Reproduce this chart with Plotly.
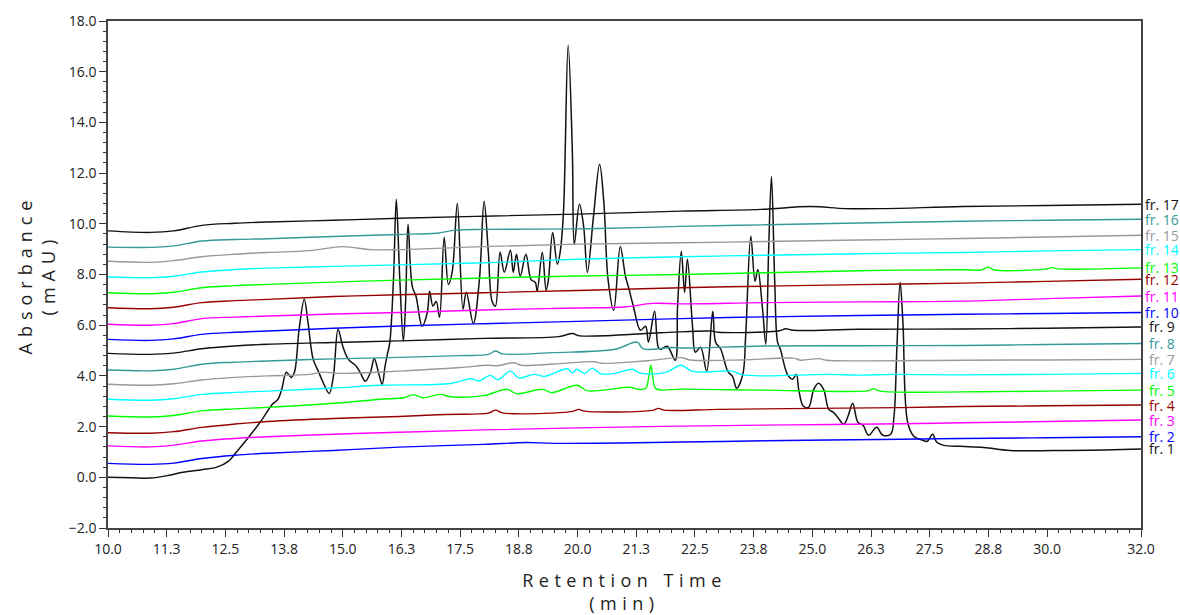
import plotly.graph_objects as go

# ---------------- data ----------------
x_tick_vals = [10, 11.25, 12.5, 13.75, 15, 16.25, 17.5, 18.75, 20, 21.25, 22.5,
               23.75, 25, 26.25, 27.5, 28.75, 30, 32]
x_tick_text = ["10.0", "11.3", "12.5", "13.8", "15.0", "16.3", "17.5", "18.8", "20.0",
               "21.3", "22.5", "23.8", "25.0", "26.3", "27.5", "28.8", "30.0", "32.0"]

fr1_t = [10.0, 10.5, 10.9, 11.3, 11.6, 12.0, 12.32, 12.56, 12.75, 12.96, 13.24, 13.5, 13.62,
         13.7, 13.8, 13.9, 13.97, 14.07, 14.18, 14.26, 14.37, 14.48, 14.58, 14.71, 14.8, 14.9,
         15.0, 15.12, 15.27, 15.37, 15.48, 15.59, 15.67, 15.76, 15.84, 15.9, 15.95, 16.0, 16.08,
         16.14, 16.21, 16.29, 16.34, 16.39, 16.48, 16.56, 16.69, 16.8, 16.85, 16.92, 16.99, 17.06,
         17.16, 17.25, 17.33, 17.44, 17.56, 17.63, 17.78, 17.91, 18.01, 18.1, 18.18, 18.25, 18.35,
         18.44, 18.57, 18.63, 18.7, 18.78, 18.9, 19.01, 19.1, 19.14, 19.25, 19.33, 19.38, 19.47,
         19.57, 19.63, 19.7, 19.8, 19.89, 19.93, 20.04, 20.13, 20.21, 20.34, 20.47, 20.56, 20.65,
         20.77, 20.91, 21.02, 21.08, 21.19, 21.34, 21.45, 21.51, 21.64, 21.72, 21.77, 21.91, 22.08,
         22.13, 22.21, 22.28, 22.34, 22.45, 22.51, 22.62, 22.75, 22.88, 22.94, 23.05, 23.2, 23.3,
         23.39, 23.52, 23.58, 23.69, 23.78, 23.84, 23.94, 24.01, 24.07, 24.13, 24.2, 24.26, 24.32,
         24.47, 24.58, 24.66, 24.71, 24.81, 24.92, 25.03, 25.13, 25.24, 25.35, 25.45, 25.54, 25.67,
         25.76, 25.86, 25.97, 26.08, 26.2, 26.37, 26.5, 26.67, 26.74, 26.8, 26.87, 26.93, 27.03,
         27.16, 27.35, 27.45, 27.56, 27.65, 27.8, 28.16, 28.65, 29.22, 30.44, 31.2, 32.0]
fr1_v = [0.0, -0.02, -0.03, 0.08, 0.2, 0.3, 0.4, 0.63, 1.03, 1.5, 2.17, 2.88, 3.08,
         3.47, 4.14, 3.94, 4.14, 5.84, 7.02, 6.1, 4.65, 4.18, 3.75, 3.31, 3.98, 5.84,
         5.17, 4.65, 4.42, 4.14, 3.79, 4.14, 4.69, 4.14, 3.67, 4.38, 4.85, 5.3, 7.8,
         10.97, 8.0, 5.36, 7.0, 9.98, 7.53, 7.14, 5.96, 6.5, 7.34, 6.75, 6.94, 6.31,
         9.47, 7.61, 8.09, 10.81, 6.63, 7.3, 6.07, 7.8, 10.89, 8.88, 6.94, 6.75, 8.88,
         8.09, 8.96, 8.09, 8.8, 7.93, 8.8, 7.8, 7.69, 7.34, 8.88, 7.38, 7.8, 9.66,
         8.4, 8.88, 10.45, 17.04, 12.82, 9.19, 10.77, 9.9, 8.09, 10.3, 12.35, 10.85, 7.8,
         6.59, 9.1, 7.93, 7.53, 6.74, 5.8, 5.96, 5.33, 6.55, 5.13, 5.05, 5.17, 4.62,
         6.74, 8.92, 7.3, 8.6, 5.92, 4.93, 5.13, 4.18, 6.55, 5.33, 5.05, 4.18, 3.98,
         3.51, 4.06, 5.56, 9.51, 7.73, 8.2, 6.63, 5.25, 8.99, 11.87, 7.69, 5.33, 5.05,
         4.06, 3.87, 4.06, 3.47, 2.8, 2.76, 3.47, 3.71, 3.47, 2.68, 2.56, 2.37, 2.09,
         2.41, 2.92, 2.17, 2.05, 1.66, 1.97, 1.66, 1.7, 2.41, 5.05, 7.69, 6.1, 2.17,
         1.62, 1.46, 1.42, 1.7, 1.38, 1.26, 1.22, 1.18, 1.06, 1.06, 1.08, 1.12]

fr2_t = [10, 10.9, 11.4, 12.0, 12.7, 13.4, 14.8, 16.2, 18.0, 18.9, 19.5, 22.2, 24, 26.9, 28.2, 30, 32]
fr2_v = [0.55, 0.51, 0.56, 0.74, 0.87, 0.95, 1.06, 1.19, 1.3, 1.37, 1.34, 1.39, 1.44, 1.5, 1.53, 1.56, 1.6]

fr3_t = [10, 10.9, 11.4, 12.0, 12.7, 13.4, 14.8, 16.2, 18, 20, 22.2, 24.5, 26.9, 28.2, 30, 32]
fr3_v = [1.24, 1.2, 1.27, 1.43, 1.53, 1.6, 1.7, 1.78, 1.87, 1.95, 2.02, 2.07, 2.11, 2.15, 2.2, 2.26]

fr4_t = [10, 10.9, 11.4, 12.0, 12.7, 13.4, 14.8, 16.2, 17.2, 18.1, 18.25, 18.4, 19.9, 20.02, 20.15,
         21.6, 21.72, 21.85, 23, 24.5, 26.9, 28.2, 30, 32]
fr4_v = [1.76, 1.74, 1.8, 1.97, 2.1, 2.2, 2.32, 2.4, 2.48, 2.53, 2.65, 2.54, 2.6, 2.68, 2.61,
         2.64, 2.72, 2.65, 2.68, 2.71, 2.75, 2.79, 2.82, 2.85]

fr5_t = [10, 10.9, 11.4, 12.0, 12.7, 13.4, 14.8, 15.8, 16.3, 16.51, 16.7, 17.08, 17.3, 18.0,
         18.5, 18.7, 19.25, 19.45, 19.99, 20.2, 20.6, 21.1, 21.3, 21.45, 21.52, 21.56, 21.6,
         21.67, 22.2, 23, 24, 26.2, 26.3, 26.45, 28.2, 30, 32]
fr5_v = [2.42, 2.38, 2.44, 2.62, 2.7, 2.76, 2.92, 3.08, 3.14, 3.25, 3.14, 3.27, 3.18, 3.22,
         3.47, 3.3, 3.47, 3.34, 3.63, 3.42, 3.45, 3.55, 3.47, 3.5, 4.0, 4.42, 4.0,
         3.5, 3.48, 3.46, 3.44, 3.42, 3.5, 3.4, 3.37, 3.4, 3.44]

fr6_t = [10, 10.9, 11.4, 12.0, 12.7, 13.4, 14.8, 15.8, 17.3, 17.72, 17.9, 18.14, 18.3, 18.57,
         18.75, 19.07, 19.3, 19.78, 19.89, 19.99, 20.15, 20.31, 20.5, 20.8, 21.17, 21.35,
         21.9, 22.2, 22.45, 23.0, 23.3, 23.5, 24, 25.3, 26.0, 26.74, 28.2, 30, 32]
fr6_v = [3.08, 3.04, 3.1, 3.27, 3.35, 3.4, 3.52, 3.63, 3.7, 3.89, 3.8, 4.02, 3.85, 4.19,
         3.92, 4.06, 3.98, 4.28, 4.12, 4.26, 4.1, 4.3, 4.08, 4.1, 4.26, 4.1,
         4.15, 4.42, 4.18, 4.18, 4.19, 4.05, 4.0, 4.06, 4.03, 4.06, 4.04, 4.06, 4.1]

fr7_t = [10, 10.9, 11.4, 12.0, 12.7, 13.4, 14.3, 14.58, 14.9, 16.2, 17.5, 18.07, 18.3, 18.64,
         18.8, 19.5, 20.35, 20.5, 21.5, 22.2, 22.4, 23.5, 24.6, 24.75, 25.14, 25.3, 28.2, 30, 32]
fr7_v = [3.67, 3.63, 3.69, 3.84, 3.94, 4.0, 4.06, 4.15, 4.1, 4.19, 4.33, 4.42, 4.4, 4.52,
         4.42, 4.47, 4.56, 4.5, 4.6, 4.72, 4.63, 4.63, 4.7, 4.62, 4.68, 4.62, 4.62, 4.63, 4.65]

fr8_t = [10, 10.9, 11.4, 12.0, 12.7, 13.4, 14.8, 16.2, 17.5, 18.1, 18.25, 18.4, 19.5, 20.8,
         21.27, 21.4, 22.0, 22.3, 24, 26, 28.2, 30, 32]
fr8_v = [4.23, 4.2, 4.26, 4.46, 4.54, 4.59, 4.67, 4.73, 4.8, 4.85, 4.98, 4.87, 4.92, 5.05,
         5.33, 5.07, 5.12, 5.1, 5.18, 5.19, 5.2, 5.24, 5.28]

fr9_t = [10, 10.9, 11.4, 12.0, 12.7, 13.4, 14.8, 16.2, 18, 19.6, 19.89, 20.05, 21.77, 22.84,
         23.0, 24.3, 24.43, 24.6, 26, 28.2, 30, 32]
fr9_v = [4.89, 4.85, 4.9, 5.07, 5.18, 5.25, 5.32, 5.38, 5.48, 5.55, 5.67, 5.58, 5.7, 5.77,
         5.72, 5.78, 5.86, 5.8, 5.84, 5.85, 5.88, 5.93]

fr10_t = [10, 10.9, 11.4, 12.0, 12.7, 13.4, 14.8, 16.2, 18, 20, 22.2, 24, 26, 28.2, 30, 32]
fr10_v = [5.44, 5.4, 5.46, 5.64, 5.72, 5.77, 5.88, 5.97, 6.06, 6.15, 6.26, 6.33, 6.38, 6.43, 6.46, 6.5]

fr11_t = [10, 10.9, 11.4, 12.0, 12.7, 13.4, 14.8, 16.2, 18, 20, 21.0, 21.6, 22.2, 24, 26, 28.2, 30, 32]
fr11_v = [6.04, 6.0, 6.06, 6.26, 6.32, 6.36, 6.44, 6.5, 6.6, 6.68, 6.72, 6.86, 6.84, 6.89, 6.92, 6.95, 7.05, 7.15]

fr12_t = [10, 10.9, 11.4, 12.0, 12.7, 13.4, 14.8, 16.2, 18, 20, 22.2, 24, 26, 28.2, 30, 32]
fr12_v = [6.69, 6.65, 6.71, 6.89, 6.97, 7.02, 7.13, 7.2, 7.28, 7.37, 7.48, 7.54, 7.6, 7.66, 7.73, 7.81]

fr13_t = [10, 10.9, 11.4, 12.0, 12.7, 13.4, 14.8, 16.2, 18, 20, 22.2, 24, 26, 28.2, 28.6, 28.74,
          28.88, 30.0, 30.1, 30.25, 32]
fr13_v = [7.28, 7.24, 7.3, 7.48, 7.56, 7.61, 7.7, 7.78, 7.86, 7.94, 8.0, 8.07, 8.15, 8.19, 8.18, 8.29,
          8.18, 8.22, 8.27, 8.22, 8.26]

fr14_t = [10, 10.9, 11.4, 12.0, 12.7, 13.4, 14.8, 16.2, 18, 20, 22.2, 24, 26, 28.2, 30, 32]
fr14_v = [7.9, 7.87, 7.93, 8.1, 8.2, 8.25, 8.32, 8.38, 8.46, 8.6, 8.7, 8.76, 8.82, 8.87, 8.93, 8.98]

fr15_t = [10, 10.9, 11.4, 12.0, 12.7, 13.4, 14.3, 15.0, 15.6, 16.2, 18, 20, 22.2, 24, 26, 28.2, 30, 32]
fr15_v = [8.52, 8.48, 8.55, 8.7, 8.8, 8.87, 8.94, 9.1, 8.98, 8.98, 9.1, 9.2, 9.25, 9.3, 9.36, 9.42, 9.48, 9.55]

fr16_t = [10, 10.9, 11.4, 12.0, 12.7, 13.4, 14.8, 16.2, 17.0, 17.4, 18, 20, 21.5, 22.2, 24, 26, 28.2, 30, 32]
fr16_v = [9.08, 9.07, 9.13, 9.32, 9.38, 9.41, 9.5, 9.58, 9.63, 9.75, 9.78, 9.8, 9.86, 9.9, 9.96, 10.03, 10.1, 10.14, 10.18]

fr17_t = [10, 10.9, 11.4, 12.0, 12.7, 13.4, 14.8, 16.2, 18, 20, 22.2, 23.9, 24.96, 25.7, 26.5, 28.2, 30, 32]
fr17_v = [9.72, 9.66, 9.72, 9.94, 10.02, 10.07, 10.14, 10.22, 10.3, 10.38, 10.5, 10.57, 10.68, 10.6, 10.6, 10.68, 10.72, 10.77]

series_names = ["fr. %d" % i for i in range(1, 18)]
series_t = [fr1_t, fr2_t, fr3_t, fr4_t, fr5_t, fr6_t, fr7_t, fr8_t, fr9_t, fr10_t, fr11_t,
            fr12_t, fr13_t, fr14_t, fr15_t, fr16_t, fr17_t]
series_v = [fr1_v, fr2_v, fr3_v, fr4_v, fr5_v, fr6_v, fr7_v, fr8_v, fr9_v, fr10_v, fr11_v,
            fr12_v, fr13_v, fr14_v, fr15_v, fr16_v, fr17_v]

palette = ["#111111", "#0000ff", "#ff00ff", "#990000", "#00ff00", "#00ffff", "#999999", "#339999"]

# ---------------- figure ----------------
fig = go.Figure()
for i, (name, t, v) in enumerate(zip(series_names, series_t, series_v)):
    col = palette[i % len(palette)]
    fig.add_trace(go.Scatter(
        x=t, y=v, mode="lines", name=name,
        line=dict(color=col, width=1.5 if i == 0 else 1.4, shape="spline", smoothing=1.0),
        showlegend=False, hoverinfo="x+y+name"))
    fig.add_annotation(x=1, xref="paper", xanchor="center", xshift=21,
                       y=v[-1], yref="y", yanchor="middle",
                       text=name, showarrow=False,
                       font=dict(color=col, size=14, family="Open Sans"))

axis_font = dict(family="Open Sans", size=14, color="#222222")
title_font = dict(family="Open Sans", size=18, color="#222222")

fig.update_xaxes(
    range=[10, 32], tickmode="array", tickvals=x_tick_vals, ticktext=x_tick_text,
    ticks="outside", ticklen=7, tickwidth=1, tickcolor="#333333",
    minor=dict(dtick=0.25, tick0=10, ticks="outside", ticklen=3, tickcolor="#333333"),
    showline=True, linecolor="#444444", linewidth=1.5, mirror=True,
    showgrid=False, zeroline=False, tickfont=axis_font,
    title=dict(text='<span style="letter-spacing:5.5px">Retention Time</span><br>'
                    '<span style="letter-spacing:5.5px">(min)</span>',
               font=title_font, standoff=20))
fig.update_yaxes(
    range=[-2, 18], dtick=2, tick0=0, tickformat=".1f",
    ticks="outside", ticklen=7, tickwidth=1, tickcolor="#333333",
    minor=dict(dtick=0.4, tick0=0, ticks="outside", ticklen=3, tickcolor="#333333"),
    showline=True, linecolor="#444444", linewidth=1.5, mirror=True,
    showgrid=False, zeroline=False, tickfont=axis_font,
    title=dict(text='<span style="letter-spacing:6px">Absorbance</span><br>'
                    '<span style="letter-spacing:6px">(mAU)</span>',
               font=title_font, standoff=8))

fig.update_layout(
    width=1180, height=615,
    margin=dict(l=108, r=39, t=21, b=87, autoexpand=False),
    paper_bgcolor="white", plot_bgcolor="white",
    font=dict(family="Open Sans"))

fig.write_html("out.html", config={"displayModeBar": False},
               post_script="document.body.style.margin='0px';")
